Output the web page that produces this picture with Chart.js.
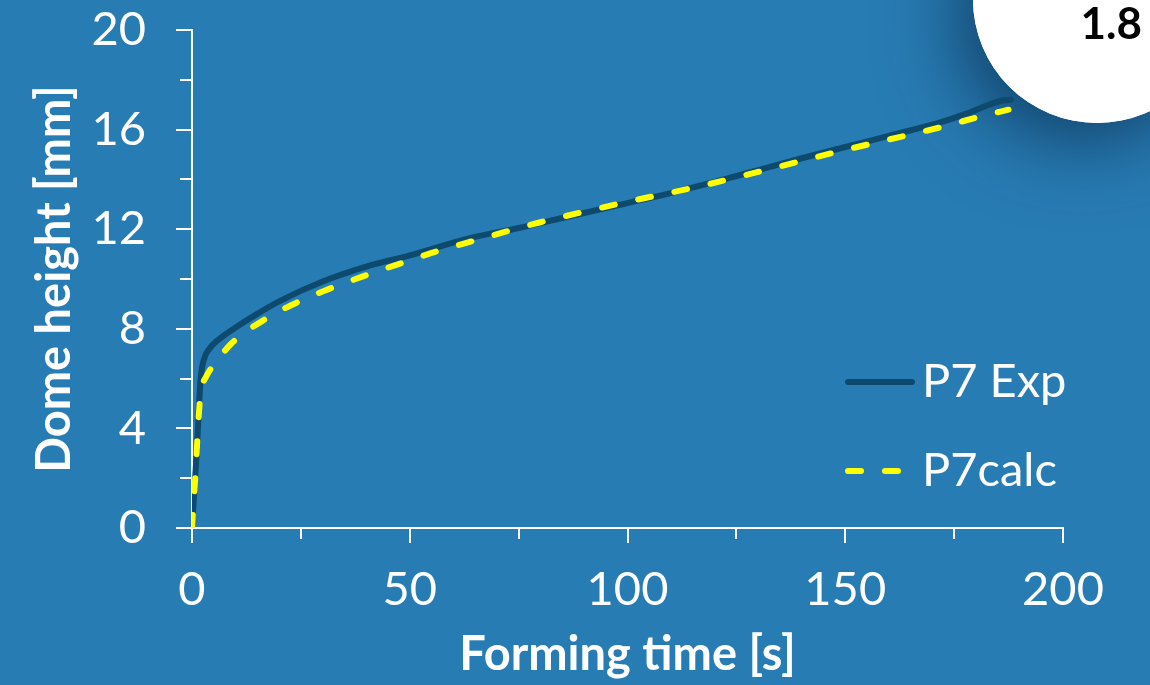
<!DOCTYPE html>
<html>
<head>
<meta charset="utf-8">
<script src="https://cdn.jsdelivr.net/npm/chart.js@4.4.1/dist/chart.umd.min.js"></script>
<style>
  html, body { margin: 0; padding: 0; background: #287cb4; }
</style>
</head>
<body>
<canvas id="myChart" width="1150" height="685"></canvas>
<script>
// data
const expTime   = [0, 1, 2, 2.7, 4, 6, 10, 15, 20, 30, 40, 50, 64, 75, 85, 100, 108, 120, 130, 140, 150, 160, 172, 178, 183, 186, 188];
const expHeight = [0, 2.8, 6.0, 6.75, 7.2, 7.55, 8.05, 8.6, 9.1, 9.9, 10.5, 10.95, 11.65, 12.05, 12.45, 13.05, 13.37, 13.9, 14.37, 14.85, 15.3, 15.75, 16.3, 16.65, 17.0, 17.17, 17.2];

const calcTime   = [0, 0.7, 1.8, 2.5, 3, 4.5, 6.5, 9, 12.5, 16, 20, 24, 30, 40, 50, 56, 65, 72, 80, 90, 100, 116, 130, 148, 160, 172, 182, 187.5];
const calcHeight = [0, 1.9, 5.1, 5.8, 6.0, 6.45, 6.9, 7.4, 7.9, 8.3, 8.7, 9.05, 9.5, 10.15, 10.75, 11.1, 11.55, 11.9, 12.28, 12.7, 13.1, 13.7, 14.3, 15.1, 15.6, 16.1, 16.57, 16.8];

const seriesNames = ['P7 Exp', 'P7calc'];
const xMajor = [0, 50, 100, 150, 200];
const xMinor = [25, 75, 125, 175];
const yMajor = [0, 4, 8, 12, 16, 20];
const yMinor = [2, 6, 10, 14, 18];
const badge = '1.8';

const bg = '#287cb4';
const expColor = '#0d4a6e';
const calcColor = '#ffff00';

function pts(xs, ys) { return xs.map((x, i) => ({ x: x, y: ys[i] })); }

// background + white badge circle with its shadow
const backdrop = {
  id: 'backdrop',
  beforeDraw(chart) {
    const c = chart.ctx;
    c.save();
    c.fillStyle = bg;
    c.fillRect(0, 0, chart.width, chart.height);
    c.shadowColor = 'rgba(5,30,60,0.65)';
    c.shadowBlur = 80;
    c.shadowOffsetX = -14;
    c.shadowOffsetY = 18;
    c.fillStyle = '#fff';
    c.beginPath();
    c.arc(1097, -1, 124, 0, Math.PI * 2);
    c.fill();
    c.shadowColor = 'transparent';
    c.beginPath();
    c.arc(1097, -1, 124, 0, Math.PI * 2);
    c.fill();
    c.fillStyle = '#000';
    c.font = 'bold 44px Lato';
    c.textAlign = 'right';
    c.textBaseline = 'alphabetic';
    c.fillText(badge, 1142, 39);
    c.restore();
  }
};

// minor ticks + legend
const extras = {
  id: 'extras',
  afterDraw(chart) {
    const c = chart.ctx;
    const xs = chart.scales.x, ys = chart.scales.y;
    c.save();
    c.strokeStyle = '#fff';
    c.lineWidth = 2;
    xMinor.forEach(v => {
      const px = Math.round(xs.getPixelForValue(v));
      c.beginPath();
      c.moveTo(px, ys.bottom);
      c.lineTo(px, ys.bottom + 11);
      c.stroke();
    });
    yMinor.forEach(v => {
      const py = Math.round(ys.getPixelForValue(v));
      c.beginPath();
      c.moveTo(xs.left - 12, py);
      c.lineTo(xs.left, py);
      c.stroke();
    });

    // legend
    const rows = [382, 471];
    chart.data.datasets.forEach((ds, i) => {
      const y = rows[i];
      c.strokeStyle = ds.borderColor;
      c.lineWidth = ds.borderWidth;
      c.lineCap = 'round';
      c.setLineDash(ds.borderDash || []);
      c.beginPath();
      c.moveTo(848, y);
      c.lineTo(912, y);
      c.stroke();
      c.setLineDash([]);
      c.fillStyle = '#fff';
      c.font = '47px Lato';
      c.textAlign = 'left';
      c.textBaseline = 'middle';
      c.fillText(ds.label, 922, y);
    });
    c.restore();
  }
};

const ctx = document.getElementById('myChart');
const myChart = new Chart(ctx, {
  type: 'line',
  data: {
    datasets: [
      {
        label: seriesNames[0],
        data: pts(expTime, expHeight),
        borderColor: expColor,
        borderWidth: 6,
        pointRadius: 0,
        cubicInterpolationMode: 'monotone',
        borderCapStyle: 'round',
        borderJoinStyle: 'round',
        order: 1
      },
      {
        label: seriesNames[1],
        data: pts(calcTime, calcHeight),
        borderColor: calcColor,
        borderWidth: 6,
        borderDash: [13, 24],
        pointRadius: 0,
        cubicInterpolationMode: 'monotone',
        borderCapStyle: 'round',
        borderJoinStyle: 'round',
        order: 0
      }
    ]
  },
  options: {
    responsive: false,
    animation: false,
    layout: { padding: { top: 30, right: 87, left: 0, bottom: 0 } },
    plugins: { legend: { display: false }, tooltip: { enabled: false } },
    scales: {
      x: {
        type: 'linear',
        min: 0,
        max: 200,
        afterBuildTicks: s => { s.ticks = xMajor.map(v => ({ value: v })); },
        afterFit: s => { s.height = 157; s.paddingLeft = 0; s.paddingRight = 0; },
        grid: { drawOnChartArea: false, drawTicks: true, tickLength: 15, color: '#fff', lineWidth: 2 },
        border: { color: '#fff', width: 2 },
        ticks: { color: '#fff', font: { family: 'Lato', size: 47 }, padding: 19, maxRotation: 0 },
        title: {
          display: true, text: 'Forming time [s]', color: '#fff',
          font: { family: 'Lato', size: 47, weight: 'bold' }, padding: { top: 0, bottom: 2 }
        }
      },
      y: {
        min: 0,
        max: 20,
        afterBuildTicks: s => { s.ticks = yMajor.map(v => ({ value: v })); },
        afterFit: s => { s.width = 192; s.paddingTop = 0; s.paddingBottom = 0; },
        grid: { drawOnChartArea: false, drawTicks: true, tickLength: 16, color: '#fff', lineWidth: 2 },
        border: { color: '#fff', width: 2 },
        ticks: { color: '#fff', font: { family: 'Lato', size: 47 }, padding: 30 },
        title: {
          display: true, text: 'Dome height [mm]', color: '#fff',
          font: { family: 'Lato', size: 47, weight: 'bold' }, padding: { top: 27, bottom: 0 }
        }
      }
    }
  },
  plugins: [backdrop, extras]
});
</script>
</body>
</html>
